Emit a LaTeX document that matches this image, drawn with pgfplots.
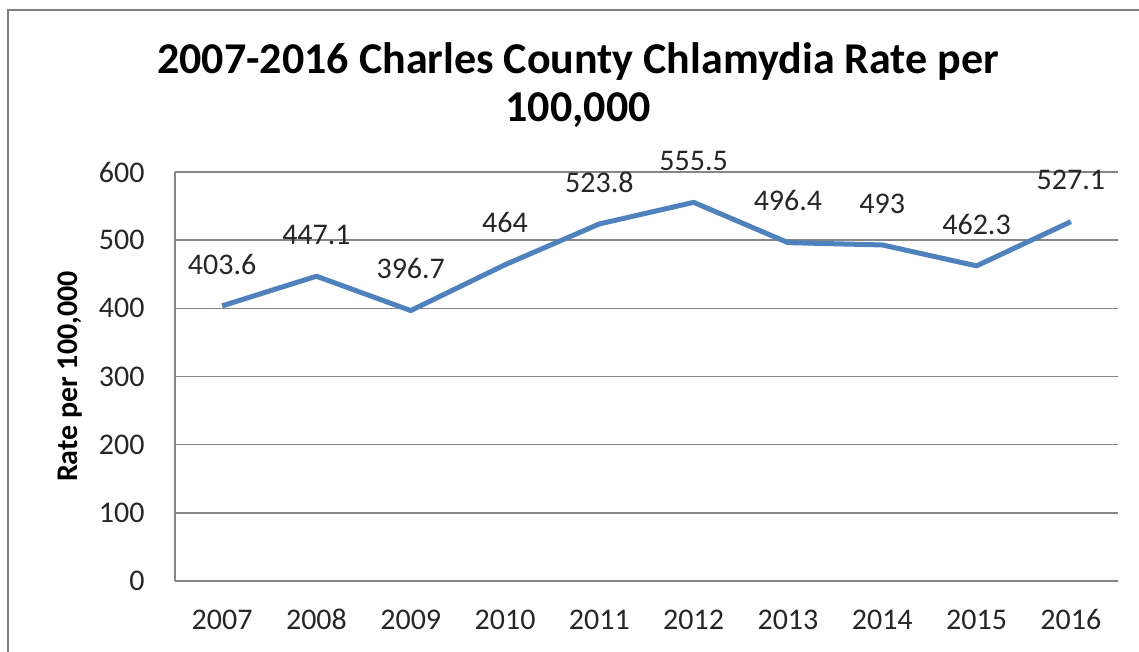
\documentclass[border=0pt]{standalone}
\usepackage{pgfplots}
\pgfplotsset{compat=1.18}
\usepackage{fontspec}
\setmainfont{Carlito}

\definecolor{excelblue}{RGB}{79,129,189}
\definecolor{gridgray}{RGB}{134,134,134}
\definecolor{framegray}{RGB}{128,128,128}

\begin{document}
\begin{tikzpicture}
    % page of 1139 x 652 px at 0.5pt per px
    \useasboundingbox (0,0) rectangle (569.5pt,326pt);
    % outer chart frame (cut off at right and bottom)
    \draw[framegray, line width=1pt] (4pt,-5pt) -- (4pt,321pt) -- (580pt,321pt);

    \begin{axis}[
        at={(87.5pt,35.5pt)},
        anchor=south west,
        scale only axis,
        width=471.5pt,
        height=204.5pt,
        % Axes
        xmin=-0.5, xmax=9.5,
        ymin=0, ymax=600,
        xtick=data,
        xticklabels={2007,2008,2009,2010,2011,2012,2013,2014,2015,2016},
        ytick={0,100,...,600},
        major tick length=0pt,
        axis x line*=bottom,
        axis y line*=left,
        axis line style={gridgray, line width=0.75pt, -},
        % Grid
        ymajorgrids=true,
        grid style={gridgray, line width=0.75pt},
        % Labels
        /pgf/number format/assume math mode=true,
        tick label style={font=\fontsize{15}{18}\selectfont, text=black!85},
        yticklabel style={anchor=east, inner sep=0pt, xshift=-15pt},
        xticklabel style={anchor=base, inner sep=0pt, yshift=-24.5pt},
        ylabel={Rate per 100,000},
        ylabel style={font=\bfseries\fontsize{15}{18}\selectfont,
            at={(axis description cs:-0.1039,0.5)}, anchor=base, inner sep=0pt},
        title={2007-2016 Charles County Chlamydia Rate per\\100,000},
        title style={font=\bfseries\fontsize{22}{24}\selectfont, align=center,
            at={(axis description cs:0.4274,1)}, anchor=south, inner sep=0pt,
            yshift=16pt},
        nodes near coords,
        point meta=explicit symbolic,
        nodes near coords style={font=\fontsize{15}{18}\selectfont, text=black!85,
            anchor=south, inner sep=0pt, yshift=14.5pt},
        clip=false,
    ]
        \addplot[excelblue, line width=2.5pt, line join=round, mark=none]
        coordinates {
            (0,403.6) [403.6]
            (1,447.1) [447.1]
            (2,396.7) [396.7]
            (3,464.0) [464]
            (4,523.8) [523.8]
            (5,555.5) [555.5]
            (6,496.4) [496.4]
            (7,493.0) [493]
            (8,462.3) [462.3]
            (9,527.1) [527.1]
        };
    \end{axis}
\end{tikzpicture}
\end{document}
